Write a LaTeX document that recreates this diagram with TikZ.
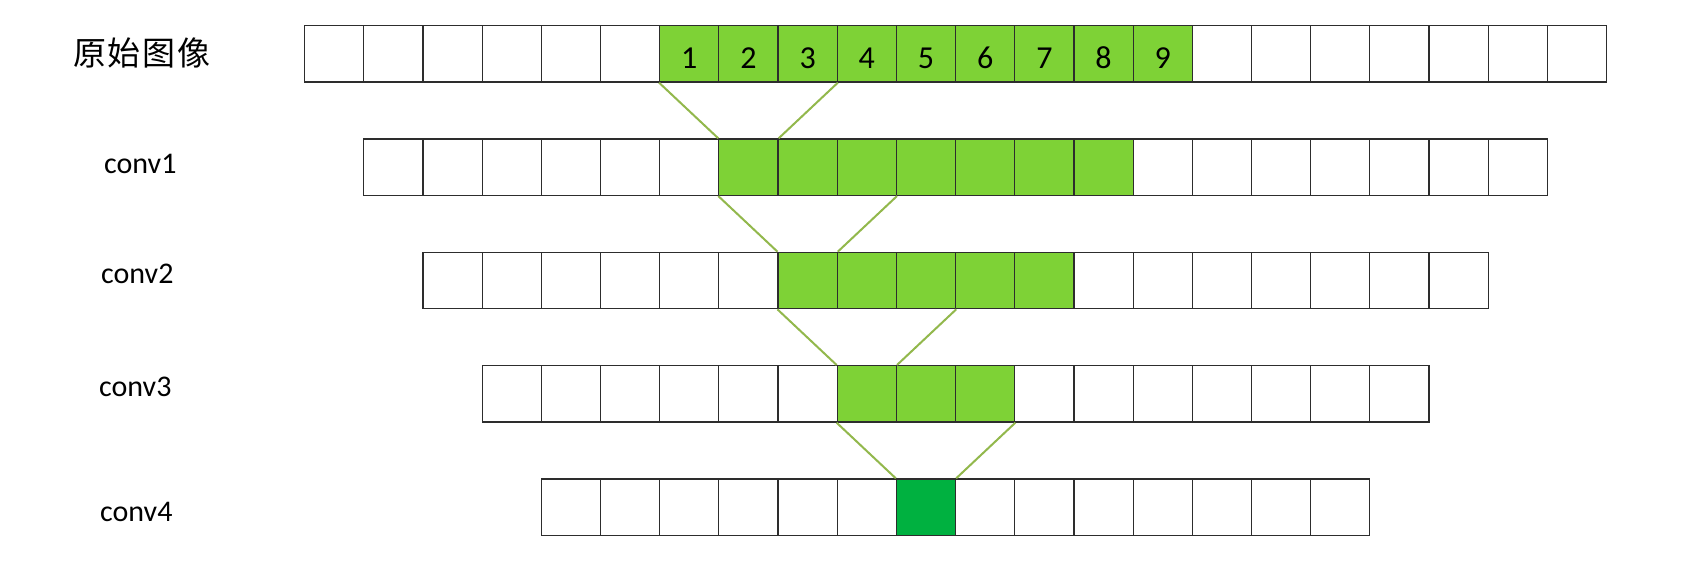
\documentclass[tikz,border=0pt]{standalone}
\usepackage{fontspec}
\setmainfont{Carlito}
\newfontfamily\cjk[LetterSpace=6]{Noto Sans CJK SC}
\definecolor{lg}{RGB}{126,210,54}
\definecolor{dg}{RGB}{0,177,64}
\definecolor{lnk}{RGB}{146,184,76}
\definecolor{bord}{RGB}{45,45,45}
\begin{document}
\begin{tikzpicture}[x=1pt,y=-1pt,
  cell/.style={draw=bord,line width=1.2pt,rectangle,minimum width=59.18pt,minimum height=56.5pt,inner sep=0pt,anchor=north west},
  digit/.style={font=\fontsize{32}{34}\selectfont,inner sep=0pt},
  lab/.style={font=\fontsize{30}{32}\selectfont,anchor=base west,inner sep=0pt},
  link/.style={draw=lnk,line width=2pt}]
\useasboundingbox[fill=white] (0,0) rectangle (1688,588);
\foreach \k/\n/\g in {0/22/9,1/20/7,2/18/5,3/16/3,4/14/1}{
  \pgfmathtruncatemacro\last{\n-1}
  \pgfmathtruncatemacro\gend{5+\g}
  \foreach \i in {0,...,\last}{
    \ifnum\i<6 \def\fc{white}\else\ifnum\i>\gend \def\fc{white}\else\def\fc{lg}\fi\fi
    \ifnum\k=4 \ifnum\i=6 \def\fc{dg}\fi\fi
    \node[cell,fill=\fc] (r\k-\i) at ({304+(\k+\i)*59.18},{25+\k*113.33}) {};
  }
}
\foreach \i [evaluate=\i as \d using int(\i-5)] in {6,...,14}{
  \node[digit,yshift=-4pt] (d\d) at (r0-\i.center) {\d};
}
\foreach \k [evaluate=\k as \m using int(\k+1)] in {0,1,2,3}{
  \draw[link] (r\k-6.south west) -- (r\m-6.north west);
  \draw[link] (r\k-8.south east) -- (r\m-6.north east);
}
\node[font=\cjk\fontsize{33}{36}\selectfont,inner sep=0pt] (orig) at (142,52.5) {原始图像};
\node[lab] (c1) at (104,173.3) {conv1};
\node[lab] (c2) at (101,283.3) {conv2};
\node[lab] (c3) at (99,396.7) {conv3};
\node[lab] (c4) at (100,521.7) {conv4};
\end{tikzpicture}
\end{document}
